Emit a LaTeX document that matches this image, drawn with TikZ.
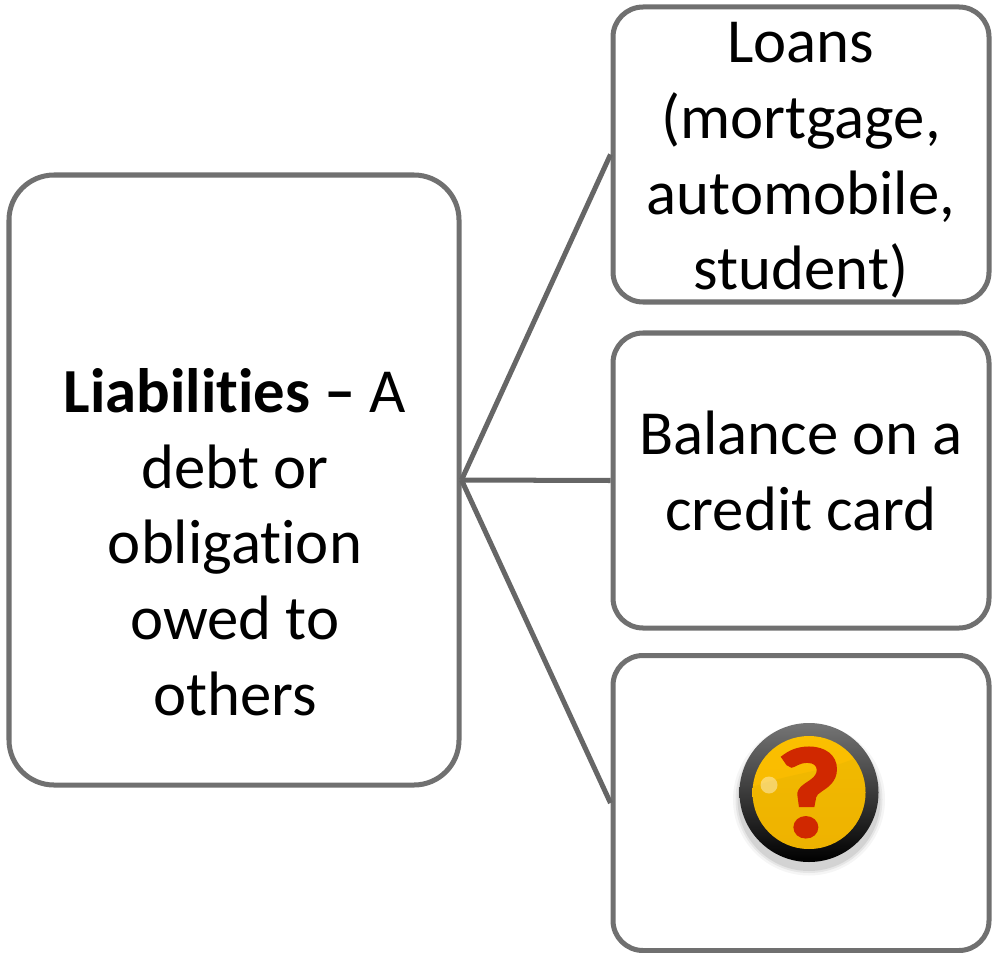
\documentclass[tikz,border=0pt]{standalone}
\usepackage{fontspec}
\setmainfont{Carlito}[Ligatures=NoCommon]
\newfontfamily\fragefont{Carlito Bold}[FakeBold=3]
\definecolor{rand}{HTML}{707070}
\definecolor{linie}{HTML}{666666}
\definecolor{ringoben}{HTML}{757575}
\definecolor{gelboben}{HTML}{FBC000}
\definecolor{gelbmitte}{HTML}{FFE800}
\definecolor{gelbunten}{HTML}{F6B400}
\definecolor{gelbschatten}{HTML}{DDB000}
\definecolor{fragerot}{HTML}{D02800}
\tikzset{
	kasten/.style={draw=rand,line width=2.85pt,fill=white,rounded corners=0.6cm,minimum width=7.52cm,minimum height=5.9cm},
	verbindung/.style={draw=linie,line width=2.85pt},
	schrift/.style={align=center,inner sep=0,font=\fontsize{35.7}{43.1}\selectfont}
}
\begin{document}
\begin{tikzpicture}
	\useasboundingbox (0,0) rectangle (19.84,19.04);
	\node[kasten,minimum width=9cm,minimum height=12.2cm,rounded corners=0.9cm] (Schulden) at (4.68,9.44) {};
	\node[kasten] (Kredite) at (16.02,15.95) {};
	\node[kasten] (Karte) at (16.02,9.43) {};
	\node[kasten] (Frage) at (16.02,2.98) {};
	\draw [verbindung] (Schulden.east) -- (Kredite.west);
	\draw [verbindung] (Schulden.east) -- (Karte.west);
	\draw [verbindung] (Schulden.east) -- (Frage.west);
	\node[schrift] (SchuldenText) at (4.7,8.2) {\textbf{Liabilities –} A\\debt or\\obligation\\owed to\\others};
	\node[schrift] (KrediteText) at (16.02,15.83) {Loans\\(mortgage,\\automobile,\\student)};
	\node[schrift] (KarteText) at (16.02,9.62) {Balance on a\\credit card};
	\coordinate (Knopf) at (16.18,3.19);
	\foreach \r/\o in {1.52/0.04,1.47/0.06,1.43/0.08}
		\fill [black,opacity=\o] ([yshift=-0.14cm]Knopf) circle (\r);
	\shade [top color=ringoben,bottom color=black] (Knopf) circle (1.39);
	\shade [top color=gelboben,middle color=gelbmitte,bottom color=gelbunten] (Knopf) circle (1.13);
	\begin{scope}
		\clip (Knopf) circle (1.13);
		\fill [gelbschatten,opacity=0.3] ([shift={(-1.3,0.05)}]Knopf) .. controls ([shift={(-0.3,0.45)}]Knopf) and ([shift={(0.6,0.4)}]Knopf) .. ([shift={(1.3,0.9)}]Knopf) -- ([shift={(1.3,-1.3)}]Knopf) -- ([shift={(-1.3,-1.3)}]Knopf) -- cycle;
		\fill [white,opacity=0.4] ([shift={(-0.8,0.15)}]Knopf) circle (0.17);
	\end{scope}
	\node[text=fragerot,inner sep=0,font=\fontsize{72}{72}\fragefont] (Fragezeichen) at (Knopf) {\scalebox{1.1}[1]{?}};
\end{tikzpicture}
\end{document}
